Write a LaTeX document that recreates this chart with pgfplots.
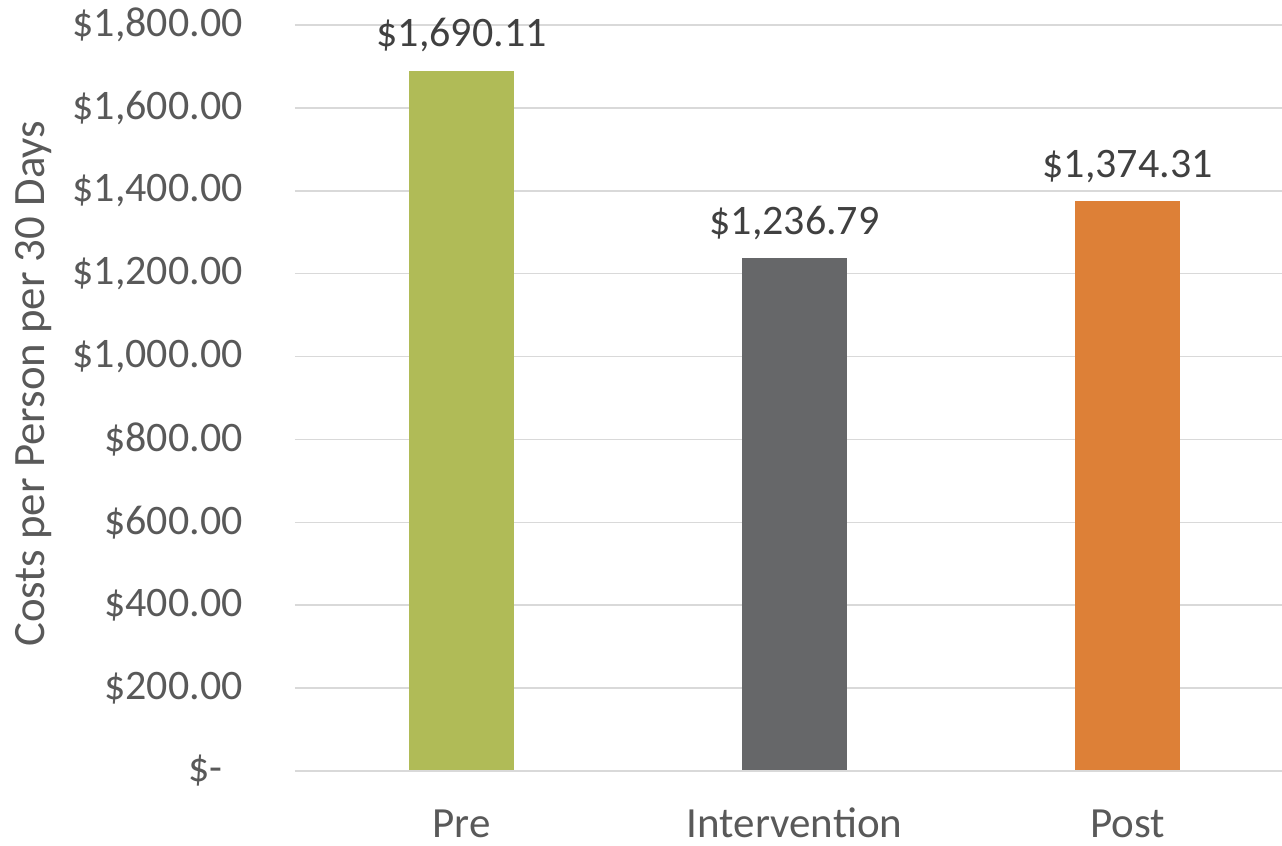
\documentclass[border=0pt]{standalone}
\usepackage{pgfplots}
\pgfplotsset{compat=1.18}
\usepackage{fontspec}
\setmainfont{Carlito}
\definecolor{cgreen}{HTML}{B0BB57}
\definecolor{cgray}{HTML}{666769}
\definecolor{corange}{HTML}{DD8037}
\definecolor{txt}{HTML}{595959}
\definecolor{lbl}{HTML}{404040}
\definecolor{gridc}{HTML}{D9D9D9}
\begin{document}
\begin{tikzpicture}
\begin{axis}[
    scale only axis,
    width=499.5pt, height=373pt,
    xmin=-0.5, xmax=2.5,
    ymin=0, ymax=1800,
    ytick={0,200,...,1800},
    yticklabels={{\$-\rule{10pt}{0pt}},{\$200.00},{\$400.00},{\$600.00},{\$800.00},{\$1,000.00},{\$1,200.00},{\$1,400.00},{\$1,600.00},{\$1,800.00}},
    xtick={0,1,2},
    xticklabels={Pre,Intervention,Post},
    xmajorgrids=false,
    ymajorgrids=true,
    y grid style={draw=gridc, line width=0.75pt},
    axis line style={draw=none},
    major tick length=0pt,
    tick label style={font=\fontsize{21}{25}\selectfont, text=txt},
    yticklabel style={anchor=east, inner sep=0pt, xshift=-26pt},
    xticklabel style={anchor=base, inner sep=0pt, yshift=-33.5pt, font=\fontsize{21.5}{26}\selectfont},
    ylabel={Costs per Person per 30 Days},
    ylabel style={at={(axis description cs:-0.262,0.519)}, anchor=center, font=\fontsize{22.4}{27}\selectfont, text=txt},
    bar width=52.5pt,
    point meta=explicit symbolic,
    nodes near coords,
    every node near coord/.style={anchor=base, inner sep=0pt, yshift=12pt, font=\fontsize{21}{25}\selectfont, text=lbl},
    clip=false,
]
\addplot[ybar, fill=cgreen, draw=none] coordinates {(0,1690.11) [\$1,690.11]};
\addplot[ybar, fill=cgray, draw=none] coordinates {(1,1236.79) [\$1,236.79]};
\addplot[ybar, fill=corange, draw=none] coordinates {(2,1374.31) [\$1,374.31]};
\draw[gridc, line width=0.75pt] (axis cs:-0.5,0) -- (axis cs:2.5,0);
\end{axis}
\pgfresetboundingbox
\path[use as bounding box] (-147.5pt,-37.5pt) rectangle (493.5pt,385.5pt);
\end{tikzpicture}
\end{document}
